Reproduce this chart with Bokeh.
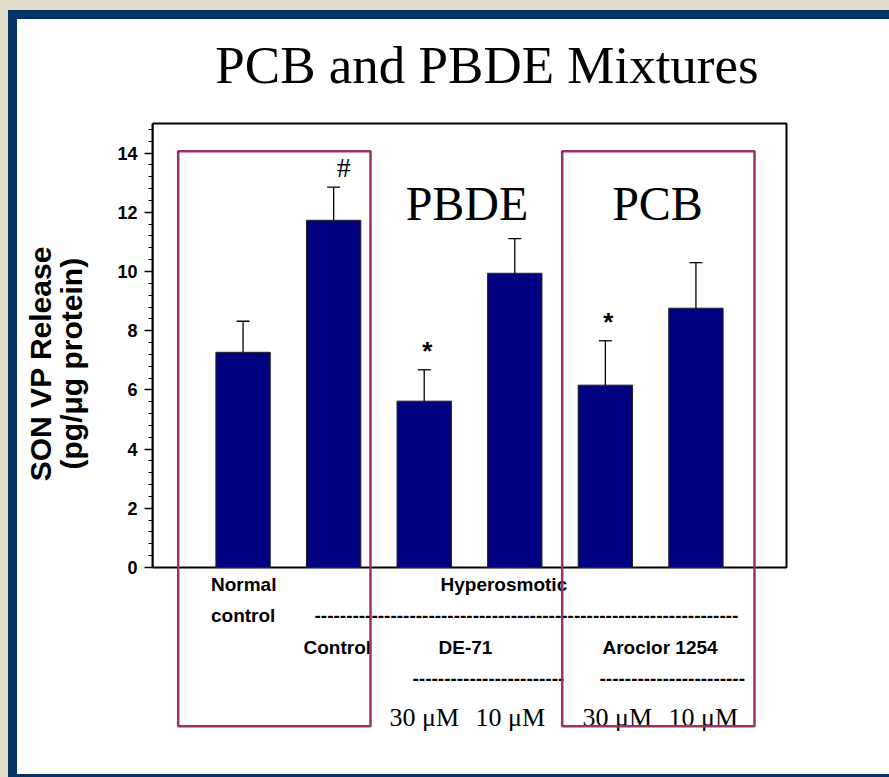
from bokeh.plotting import figure
from bokeh.layouts import column, row
from bokeh.models import ColumnDataSource, FixedTicker, Range1d, Spacer
from bokeh.core.properties import value
from bokeh.embed import file_html
from bokeh.resources import INLINE

# SON vasopressin release per treatment group (mean and SEM, pg/ug protein)
groups = ["Normal control", "Control", "DE-71 30 μM", "DE-71 10 μM",
          "Aroclor 1254 30 μM", "Aroclor 1254 10 μM"]
positions = [1, 2, 3, 4, 5, 6]
vp_mean = [7.27, 11.73, 5.62, 9.94, 6.16, 8.76]
vp_sem = [1.05, 1.12, 1.06, 1.17, 1.50, 1.54]
significance = ["", "#", "*", "", "*", ""]
y_ticks = [0, 2, 4, 6, 8, 10, 12, 14]

BEIGE = "#e2dccd"
NAVY = "#043366"
NAVY_BAR = "#000080"
MAROON = "#993366"
SANS = "Liberation Sans"
SERIF = "Liberation Serif"

# page geometry (pixels): white panel inside the navy slide border
PAGE_W, PAGE_H = 889, 777
PANEL_L, PANEL_T, PANEL_B = 17, 19, 774
# chart box on the page and its data extents
BOX_L, BOX_R, BOX_T, BOX_B = 152, 786, 123, 567
X0, X1, Y0, Y1 = 0, 7, 0, 15
SX = (BOX_R - BOX_L) / (X1 - X0)
SY = (BOX_B - BOX_T) / (Y1 - Y0)


def dx(px):
    return X0 + (px - BOX_L) / SX


def dy(py):
    return Y0 + (BOX_B - py) / SY


fig_w = PAGE_W - PANEL_L
fig_h = PANEL_B - PANEL_T
p = figure(width=fig_w, height=fig_h,
           x_range=Range1d(dx(BOX_L), dx(PAGE_W)),
           y_range=Range1d(dy(PANEL_B), dy(PANEL_T)),
           output_backend="svg", toolbar_location=None,
           min_border_left=BOX_L - PANEL_L, min_border_right=0,
           min_border_top=0, min_border_bottom=0)
p.border_fill_color = "white"
p.background_fill_color = "white"
p.outline_line_color = None
p.xgrid.visible = False
p.ygrid.visible = False
p.xaxis.visible = False

# y axis, limited to the chart box
minor = [t + k * 0.4 for t in y_ticks for k in range(1, 5) if t + k * 0.4 < Y1]
yax = p.yaxis[0]
yax.bounds = (Y0, Y1)
yax.ticker = FixedTicker(ticks=y_ticks, minor_ticks=minor)
yax.axis_line_width = 2
yax.axis_line_color = "black"
yax.major_tick_out = 8
yax.major_tick_in = 0
yax.minor_tick_out = 4
yax.minor_tick_in = 0
yax.major_tick_line_width = 1.5
yax.minor_tick_line_width = 1
yax.major_label_text_font = SANS
yax.major_label_text_font_style = "bold"
yax.major_label_text_font_size = "18px"
yax.major_label_text_color = "black"
yax.major_label_standoff = 7
# the label is centred on the full panel height; leading no-break spaces
# move the visible words up to sit beside the chart box
pad = "\u00a0" * 8
yax.axis_label = pad + "SON VP Release\n" + pad + "(pg/μg protein)"
yax.axis_label_text_font = SANS
yax.axis_label_text_font_style = "bold"
yax.axis_label_text_font_size = "30px"
yax.axis_label_text_color = "black"
yax.axis_label_text_line_height = 0.95
yax.axis_label_standoff = 26

# chart box
p.quad(left=[X0], right=[X1], bottom=[Y0], top=[Y1], fill_color=None,
       line_color="black", line_width=2)

src = ColumnDataSource(dict(
    x=positions, mean=vp_mean,
    upper=[m + s for m, s in zip(vp_mean, vp_sem)],
    cap_l=[x - 6.5 / SX for x in positions],
    cap_r=[x + 6.5 / SX for x in positions],
))
p.vbar(x="x", top="mean", bottom=0, width=0.6, source=src,
       fill_color=NAVY_BAR, line_color="#222222", line_width=1)
p.segment(x0="x", y0="mean", x1="x", y1="upper", source=src, line_color="black", line_width=1.3)
p.segment(x0="cap_l", y0="upper", x1="cap_r", y1="upper", source=src, line_color="black", line_width=1.3)

# the renderer draws "alphabetic" text a little low; lift anchors by this share of the size
LIFT = 0.4


def txt(text, px, py, font=SANS, size=19, style="bold", align="left"):
    p.text(x=[dx(px)], y=[dy(py - LIFT * size)], text=[text], text_font=value(font),
           text_font_size=f"{size}px", text_font_style=style, text_align=align,
           text_baseline="alphabetic", text_color="black")


# significance marks above the error bars
for i, mark in enumerate(significance):
    if not mark:
        continue
    top_px = BOX_B - (vp_mean[i] + vp_sem[i] - Y0) * SY
    cx = BOX_L + (positions[i] - X0) * SX
    if mark == "*":
        txt(mark, cx + 3, top_px - 8, size=26, align="center")
    else:
        txt(mark, cx + 10, top_px - 8, font=SERIF, size=28, style="normal", align="center")

txt("PCB and PBDE Mixtures", 486.5, 86, font=SERIF, size=53, style="normal", align="center")
txt("PBDE", 466.5, 222.5, font=SERIF, size=48, style="normal", align="center")
txt("PCB", 657, 222.5, font=SERIF, size=48, style="normal", align="center")

txt("Normal", 210.5, 592)
txt("control", 210.5, 622.5)
txt("Hyperosmotic", 440, 592)
txt("-" * 67, 314, 622.5)
txt("Control", 303, 655)
txt("DE-71", 438, 655)
txt("Aroclor 1254", 602, 655)
txt("-" * 24, 412, 686)
txt("-" * 23, 599, 686)
for left in (389, 582):
    txt("30 μM", left, 727, font=SERIF, size=26, style="normal")
    txt("10 μM", left + 86, 727, font=SERIF, size=26, style="normal")

# group outlines
for gl, gr in [(177.7, 370), (561.7, 754)]:
    p.quad(left=[dx(gl)], right=[dx(gr)], top=[dy(150.7)], bottom=[dy(725.7)],
           fill_color=None, line_color=MAROON, line_width=2.5)


def band(w, h, color):
    return Spacer(width=w, height=h, styles={"background-color": color})


page = column(
    band(PAGE_W, 10, BEIGE),
    row(band(8, PANEL_T - 10, BEIGE), band(PAGE_W - 8, PANEL_T - 10, NAVY)),
    row(band(8, fig_h, BEIGE), band(PANEL_L - 8, fig_h, NAVY), p),
    row(band(8, PAGE_H - PANEL_B, BEIGE), band(PAGE_W - 8, PAGE_H - PANEL_B, NAVY)),
)

open("out.html", "w").write(file_html(page, INLINE))
